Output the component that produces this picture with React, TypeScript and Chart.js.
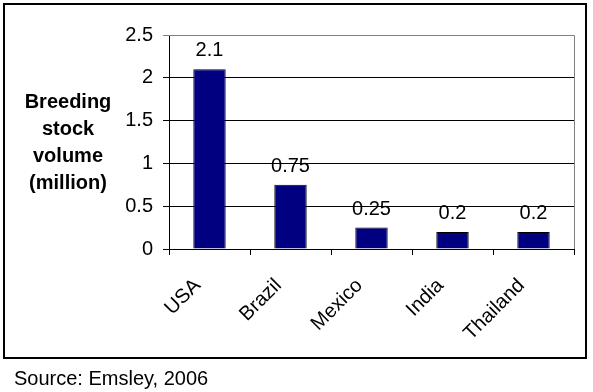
import React, { useEffect, useRef } from "react";
import { Chart, registerables } from "chart.js";

Chart.register(...registerables);

const categories = ["USA", "Brazil", "Mexico", "India", "Thailand"];
const values = [2.1, 0.75, 0.25, 0.2, 0.2];
const valueLabels = ["2.1", "0.75", "0.25", "0.2", "0.2"];
const yTickLabels = ["0", "0.5", "1", "1.5", "2", "2.5"];
const yTitleLines = ["Breeding", "stock", "volume", "(million)"];
const sourceText = "Source: Emsley, 2006";

const FONT = 'Arial, "Liberation Sans", sans-serif';
const FS = 20;

const decorPlugin = {
  id: "decor",
  afterDraw(chart: any) {
    const ctx = chart.ctx;
    const area = chart.chartArea;
    ctx.save();
    // plot area top/right border (gray)
    ctx.strokeStyle = "#808080";
    ctx.lineWidth = 1;
    ctx.beginPath();
    ctx.moveTo(area.left, area.top + 0.5);
    ctx.lineTo(Math.round(area.right) + 0.5, area.top + 0.5);
    ctx.lineTo(Math.round(area.right) + 0.5, area.bottom);
    ctx.stroke();
    // outer border
    ctx.strokeStyle = "#000";
    ctx.lineWidth = 2;
    ctx.strokeRect(4, 4, 582, 354);
    // data labels
    ctx.fillStyle = "#000";
    ctx.font = `${FS}px ${FONT}`;
    ctx.textAlign = "center";
    ctx.textBaseline = "alphabetic";
    const meta = chart.getDatasetMeta(0);
    meta.data.forEach((bar: any, i: number) => {
      ctx.fillText(valueLabels[i], bar.x, bar.y - 13);
    });
    // y title
    ctx.font = `bold ${FS}px ${FONT}`;
    yTitleLines.forEach((line, i) => {
      ctx.fillText(line, 68, 108 + i * 27);
    });
    // source
    ctx.font = `${FS}px ${FONT}`;
    ctx.textAlign = "left";
    ctx.fillText(sourceText, 14, 385);
    ctx.restore();
  },
};

export default function App() {
  const canvasRef = useRef<HTMLCanvasElement | null>(null);

  useEffect(() => {
    if (!canvasRef.current) return;
    const chart = new Chart(canvasRef.current, {
      type: "bar",
      data: {
        labels: categories,
        datasets: [
          {
            data: values,
            backgroundColor: "#000080",
            borderColor: "#000000",
            borderWidth: 1,
            barPercentage: 0.4,
            categoryPercentage: 1,
          },
        ],
      },
      options: {
        animation: false,
        responsive: false,
        maintainAspectRatio: false,
        layout: { padding: { left: 0, top: 35, right: 19, bottom: 0 } },
        plugins: {
          legend: { display: false },
          tooltip: { enabled: false },
        },
        scales: {
          x: {
            grid: {
              display: true,
              drawOnChartArea: false,
              offset: true,
              tickLength: 6,
              color: "#000",
            },
            border: { color: "#000", width: 1 },
            ticks: {
              minRotation: 45,
              maxRotation: 45,
              autoSkip: false,
              color: "#000",
              font: { family: FONT, size: FS },
              padding: 19,
              labelOffset: -12,
            },
            afterFit: (s: any) => {
              s.height = 143;
            },
          },
          y: {
            min: 0,
            max: 2.5,
            ticks: {
              stepSize: 0.5,
              color: "#000",
              padding: 10,
              font: { family: FONT, size: FS },
              callback: (_v: any, i: number) => yTickLabels[i],
            },
            grid: {
              tickLength: 6,
              color: (c: any) => (c.tick && c.tick.value === 2.5 ? "#808080" : "#000"),
            },
            border: { color: "#000", width: 1 },
            afterFit: (s: any) => {
              s.width = 169;
            },
          },
        },
      },
      plugins: [decorPlugin],
    });
    return () => chart.destroy();
  }, []);

  return (
    <div
      style={{
        position: "fixed",
        left: 0,
        top: 0,
        width: 593,
        height: 392,
        background: "#fff",
      }}
    >
      <canvas ref={canvasRef} width={593} height={392} style={{ width: 593, height: 392 }} />
    </div>
  );
}
